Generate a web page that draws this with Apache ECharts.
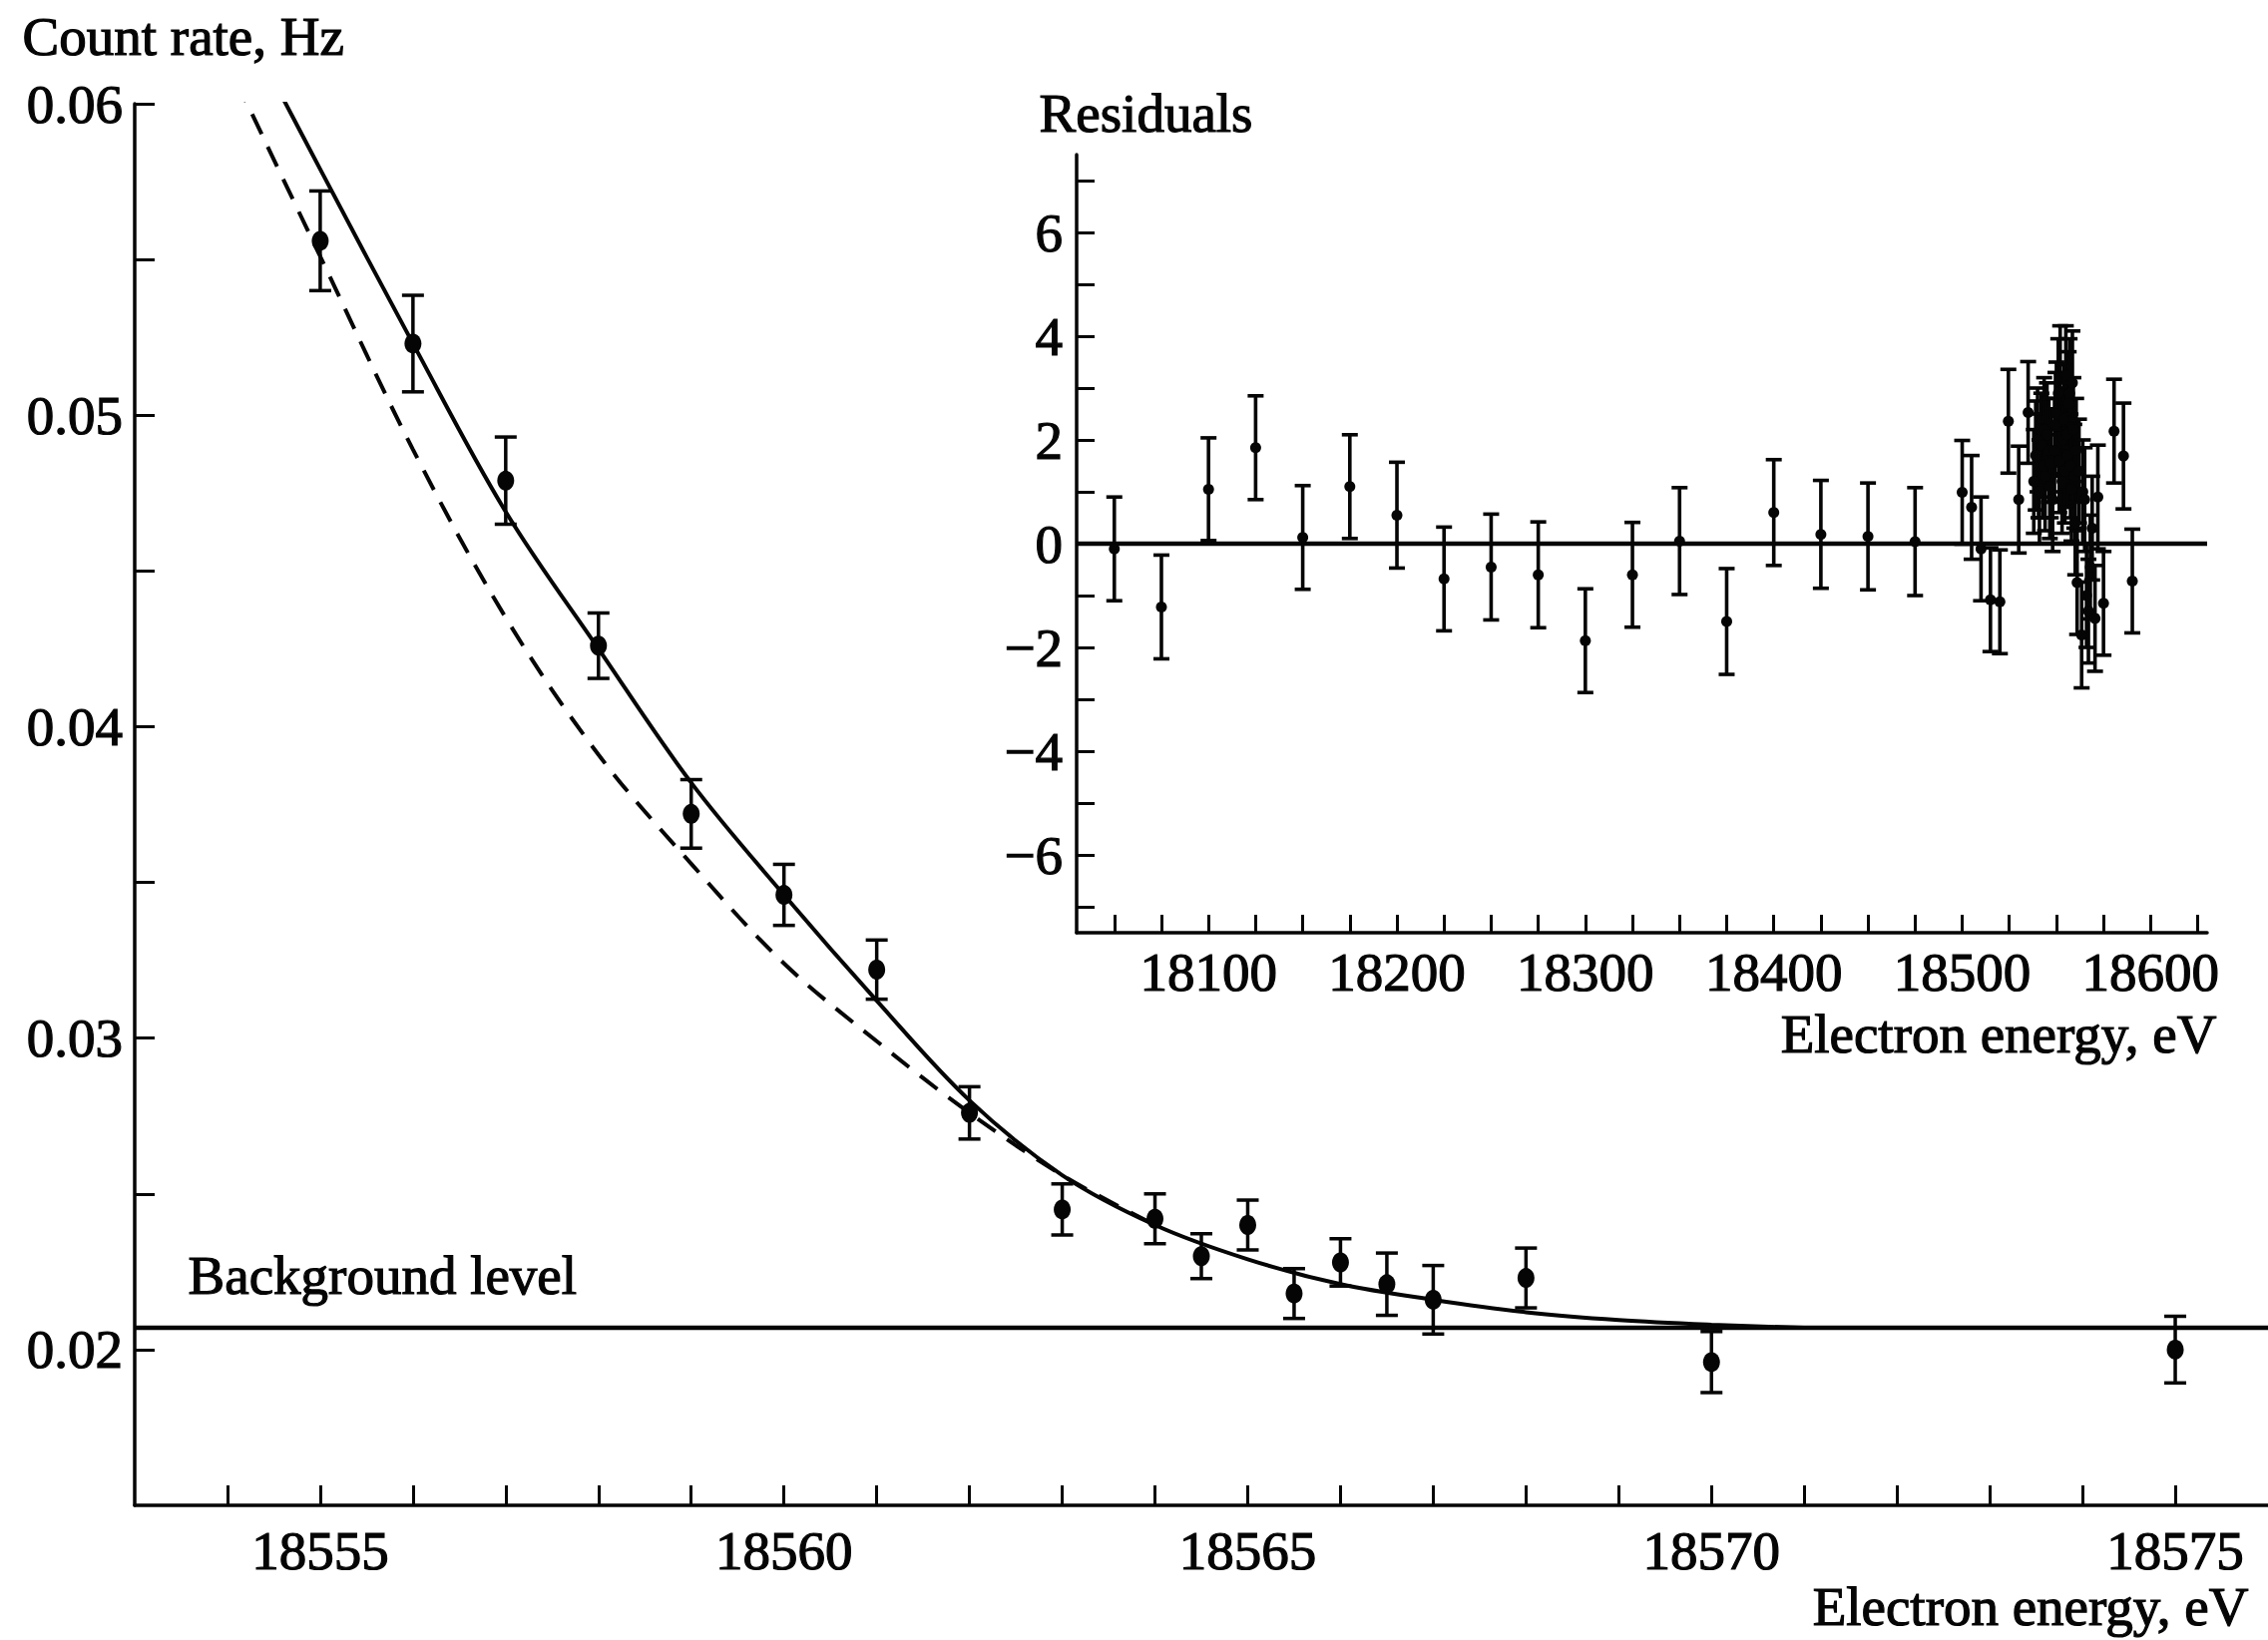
<!DOCTYPE html>
<html><head><meta charset="utf-8">
<script src="https://cdn.jsdelivr.net/npm/echarts@6/dist/echarts.min.js"></script>
<style>html,body{margin:0;padding:0;background:#fff;} #c{width:2273px;height:1644px;}</style>
</head><body><div id="c"></div>
<script>
// ---------- Main plot data ----------
const mainEnergy = [18555, 18556, 18557, 18558, 18559, 18560, 18561, 18562, 18563, 18564, 18564.5, 18565, 18565.5, 18566, 18566.5, 18567, 18568, 18570, 18575];
const mainRate   = [0.0556, 0.0523, 0.0479, 0.0426, 0.0372, 0.0346, 0.0322, 0.0276, 0.0245, 0.0242, 0.0230, 0.0240, 0.0218, 0.0228, 0.0221, 0.0216, 0.0223, 0.0196, 0.0200];
const mainErr    = [0.0016, 0.00155, 0.0014, 0.00105, 0.0011, 0.00098, 0.00095, 0.00084, 0.00082, 0.0008, 0.00072, 0.0008, 0.0008, 0.00076, 0.001, 0.0011, 0.00096, 0.00098, 0.00107];

// solid fit curve
const fitEnergy = [18554.4, 18555, 18556, 18557, 18558, 18559, 18560, 18561, 18562, 18563, 18564, 18565, 18566, 18567, 18568, 18569, 18570, 18571];
const fitRate   = [0.0613, 0.0579, 0.0523, 0.0469, 0.0425, 0.0382, 0.0346, 0.0312, 0.0280, 0.0256, 0.0240, 0.0229, 0.0221, 0.0216, 0.0212, 0.02095, 0.0208, 0.0207];

// dashed curve
const dashEnergy = [18554.1, 18555, 18556, 18557, 18558, 18559, 18560, 18561, 18562, 18563, 18564];
const dashRate   = [0.0607, 0.0551, 0.0489, 0.0435, 0.0391, 0.0356, 0.0324, 0.0299, 0.0276, 0.0256, 0.0240];

const backgroundLevel = 0.0207;

const mainXTicks  = [18554,18555,18556,18557,18558,18559,18560,18561,18562,18563,18564,18565,18566,18567,18568,18569,18570,18571,18572,18573,18574,18575];
const mainXLabels = [18555, 18560, 18565, 18570, 18575];
const mainYTicks  = [0.02, 0.025, 0.03, 0.035, 0.04, 0.045, 0.05, 0.055, 0.06];
const mainYLabels = [0.02, 0.03, 0.04, 0.05, 0.06];

// ---------- Inset (residuals) data ----------
const resEnergy = [18050, 18075, 18100, 18125, 18150, 18175, 18200, 18225, 18250, 18275, 18300, 18325, 18350, 18375, 18400, 18425, 18450, 18475,
  18500, 18505, 18510, 18515, 18520, 18524.5, 18530, 18535,
  18538, 18539, 18540, 18540.5, 18541, 18542, 18543, 18543.5, 18544, 18545, 18546, 18546.5, 18547, 18548, 18549, 18549.5, 18550, 18551, 18551.5, 18552, 18553, 18553.5, 18554, 18554.5, 18555, 18555.5, 18556, 18556.5, 18557, 18557.5, 18558, 18558.5, 18559, 18559.5, 18560, 18560.5, 18561, 18562, 18563.4, 18564, 18565, 18566, 18567, 18568, 18569, 18570.5, 18572, 18575,
  18580.6, 18585.6, 18590.3];
const resValue = [-0.1, -1.22, 1.05, 1.85, 0.12, 1.1, 0.55, -0.68, -0.45, -0.6, -1.87, -0.6, 0.05, -1.5, 0.6, 0.18, 0.14, 0.04,
  0.99, 0.7, -0.1, -1.08, -1.12, 2.36, 0.85, 2.53,
  1.2, 1.7, 2.0, 1.5, 1.0, 1.9, 1.5, 2.2, 1.3, 2.1, 1.8, 1.1, 1.55, 0.85, 1.8, 2.3, 2.5, 2.9, 1.6, 3.2, 1.2, 2.0, 2.4, 1.4, 3.25, 2.1, 1.7, 2.7, 2.9, 1.5, 1.05, 3.1, 2.2, 1.3, 0.4, 1.8, -0.75, 1.4, -1.76, 1.0, 0.85, -1.0, -1.3, -0.45, 0.3, -1.44, 0.9, -1.15,
  2.17, 1.69, -0.72];
const resErr = [1.0, 1.0, 0.99, 1.0, 1.0, 1.0, 1.02, 1.0, 1.02, 1.02, 1.0, 1.01, 1.03, 1.02, 1.02, 1.04, 1.03, 1.04,
  1.0, 1.0, 1.0, 1.0, 1.0, 1.0, 1.03, 0.98,
  1.0, 1.05, 1.0, 1.0, 1.0, 1.0, 1.0, 1.0, 1.05, 1.0, 1.0, 1.0, 1.05, 1.0, 1.0, 1.0, 1.0, 1.05, 1.0, 1.0, 1.0, 1.0, 1.05, 1.0, 0.95, 1.0, 1.0, 1.0, 1.05, 1.0, 1.0, 1.0, 1.0, 1.0, 1.0, 1.0, 1.0, 1.0, 1.02, 1.0, 1.0, 1.0, 1.0, 1.0, 1.0, 1.02, 1.0, 1.0,
  1.0, 1.02, 1.0];

const resXTicks  = [18050,18075,18100,18125,18150,18175,18200,18225,18250,18275,18300,18325,18350,18375,18400,18425,18450,18475,18500,18525,18550,18575,18600,18625];
const resXLabels = [18100, 18200, 18300, 18400, 18500, 18600];
const resYTicks  = [-7,-6,-5,-4,-3,-2,-1,0,1,2,3,4,5,6,7];
const resYLabels = [-6, -4, -2, 0, 2, 4, 6];

// ---------- Chart ----------
const FONT = 'Liberation Serif';
const BLACK = '#050505';
const txt = (extra) => Object.assign({fontFamily: FONT, fontSize: 55, color: BLACK, textBorderColor: BLACK, textBorderWidth: 1.2}, extra || {});

function zip2(a, b) { return a.map((v, i) => [v, b[i]]); }
function errData(x, y, e) { return x.map((v, i) => [v, y[i] - e[i], y[i] + e[i]]); }

function errorBars(xi, yi, data, capHalf, lw) {
  return {
    type: 'custom', xAxisIndex: xi, yAxisIndex: yi, data: data,
    encode: {x: 0, y: [1, 2]}, silent: true, z: 3, clip: false,
    renderItem: function (params, api) {
      const x = api.value(0), lo = api.value(1), hi = api.value(2);
      const a = api.coord([x, lo]), b = api.coord([x, hi]);
      const st = {stroke: BLACK, lineWidth: lw};
      return {type: 'group', children: [
        {type: 'line', shape: {x1: a[0], y1: a[1], x2: b[0], y2: b[1]}, style: st},
        {type: 'line', shape: {x1: a[0] - capHalf, y1: a[1], x2: a[0] + capHalf, y2: a[1]}, style: st},
        {type: 'line', shape: {x1: b[0] - capHalf, y1: b[1], x2: b[0] + capHalf, y2: b[1]}, style: st}
      ]};
    }
  };
}

const axisLine = {show: true, onZero: false, lineStyle: {color: BLACK, width: 3.5}};
const tickStyle = {color: BLACK, width: 3};
const titleStyle = (t) => ({text: t, font: '55px "Liberation Serif"', fill: BLACK, stroke: BLACK, lineWidth: 1.2});

const option = {
  animation: false,
  backgroundColor: '#ffffff',
  grid: [
    {left: 135, top: 104, right: 0, bottom: 135, containLabel: false},
    {left: 1079, top: 155, width: 1133, height: 780, containLabel: false}
  ],
  xAxis: [
    {type: 'value', gridIndex: 0, min: 18553, max: 18576,
      axisLine: axisLine,
      axisTick: {show: true, inside: true, length: 20, lineStyle: tickStyle, customValues: mainXTicks},
      axisLabel: txt({customValues: mainXLabels, margin: 18, formatter: v => String(Math.round(v))}),
      splitLine: {show: false}},
    {type: 'value', gridIndex: 1, min: 18030, max: 18630,
      axisLine: axisLine,
      axisTick: {show: true, inside: true, length: 18, lineStyle: tickStyle, customValues: resXTicks},
      axisLabel: txt({customValues: resXLabels, margin: 12, formatter: v => String(Math.round(v))}),
      splitLine: {show: false}}
  ],
  yAxis: [
    {type: 'value', gridIndex: 0, min: 0.015, max: 0.06,
      axisLine: axisLine,
      axisTick: {show: true, inside: true, length: 20, lineStyle: tickStyle, customValues: mainYTicks},
      axisLabel: txt({customValues: mainYLabels, margin: 12, formatter: v => v.toFixed(2)}),
      splitLine: {show: false}},
    {type: 'value', gridIndex: 1, min: -7.5, max: 7.5,
      axisLine: axisLine,
      axisTick: {show: true, inside: true, length: 18, lineStyle: tickStyle, customValues: resYTicks},
      axisLabel: txt({customValues: resYLabels, margin: 14, formatter: v => (v < 0 ? '\u2212' + Math.abs(v) : String(v))}),
      splitLine: {show: false}}
  ],
  series: [
    // background level
    {type: 'line', xAxisIndex: 0, yAxisIndex: 0, data: [[18553, backgroundLevel], [18576, backgroundLevel]],
      symbol: 'none', lineStyle: {color: BLACK, width: 4.5}, silent: true, z: 2},
    // dashed curve
    {type: 'line', xAxisIndex: 0, yAxisIndex: 0, data: zip2(dashEnergy, dashRate), smooth: 0.35,
      symbol: 'none', lineStyle: {color: BLACK, width: 4, type: [22, 14]}, silent: true, z: 2},
    // solid fit
    {type: 'line', xAxisIndex: 0, yAxisIndex: 0, data: zip2(fitEnergy, fitRate), smooth: 0.35,
      symbol: 'none', lineStyle: {color: BLACK, width: 4}, silent: true, z: 2},
    errorBars(0, 0, errData(mainEnergy, mainRate, mainErr), 11, 3.5),
    {type: 'scatter', xAxisIndex: 0, yAxisIndex: 0, data: zip2(mainEnergy, mainRate), symbol: 'circle', symbolSize: [17, 20],
      itemStyle: {color: BLACK, opacity: 1}, silent: true, z: 4},
    // inset zero line
    {type: 'line', xAxisIndex: 1, yAxisIndex: 1, data: [[18030, 0], [18630, 0]],
      symbol: 'none', lineStyle: {color: BLACK, width: 4.5}, silent: true, z: 2},
    errorBars(1, 1, errData(resEnergy, resValue, resErr), 8, 3.6),
    {type: 'scatter', xAxisIndex: 1, yAxisIndex: 1, data: zip2(resEnergy, resValue), symbol: 'circle', symbolSize: 11,
      itemStyle: {color: BLACK, opacity: 1}, silent: true, z: 4}
  ],
  graphic: [
    {type: 'text', left: 22, top: 8, style: titleStyle('Count rate, Hz')},
    {type: 'text', right: 19, top: 1582, style: titleStyle('Electron energy, eV')},
    {type: 'text', left: 188, top: 1250, style: titleStyle('Background level')},
    {type: 'text', left: 1041, top: 85, style: titleStyle('Residuals')},
    {type: 'text', right: 51, top: 1008, style: titleStyle('Electron energy, eV')}
  ]
};

const chart = echarts.init(document.getElementById('c'), null, {renderer: 'svg'});
chart.setOption(option);
</script>
</body></html>
